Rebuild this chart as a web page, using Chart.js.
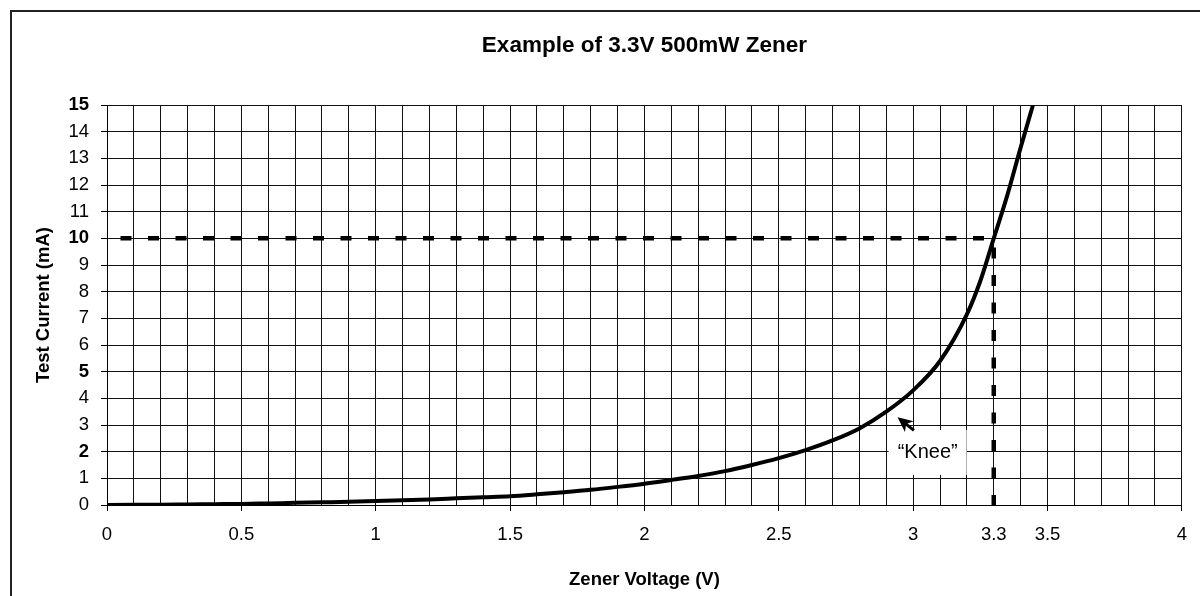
<!DOCTYPE html>
<html>
<head>
<meta charset="utf-8">
<title>Example of 3.3V 500mW Zener</title>
<script src="https://cdn.jsdelivr.net/npm/chart.js@4.4.1/dist/chart.umd.min.js"></script>
<style>
  body { margin: 0; background: #fff; }
  canvas { display: block; }
</style>
</head>
<body>
<canvas id="zenerChart" width="1200" height="596"></canvas>
<script>
// Zener I-V curve
const voltage = [0, 0.1, 0.2, 0.3, 0.4, 0.5, 0.6, 0.7, 0.8, 0.9, 1.0, 1.1, 1.2, 1.3, 1.4, 1.5, 1.6, 1.7,
                 1.8, 1.9, 2.0, 2.1, 2.2, 2.3, 2.4, 2.5, 2.6, 2.7, 2.8, 2.9, 3.0, 3.1, 3.2, 3.25, 3.3, 3.35, 3.4, 3.446];
const current = [0, 0.005, 0.01, 0.02, 0.03, 0.04, 0.06, 0.08, 0.10, 0.12, 0.15, 0.18, 0.21, 0.25, 0.29, 0.33, 0.40, 0.48,
                 0.57, 0.68, 0.80, 0.94, 1.09, 1.27, 1.50, 1.76, 2.06, 2.42, 2.87, 3.50, 4.30, 5.40, 7.15, 8.4, 10.0, 11.6, 13.4, 15];

// test point (3.3 V at 10 mA) marked with dashed lines
const testPoint = { v: 3.3, i: 10 };

// axis setup
const xLabelled = [0, 0.5, 1, 1.5, 2, 2.5, 3, 3.3, 3.5, 4];
const xMajor = [0, 0.5, 1, 1.5, 2, 2.5, 3, 3.5, 4];
const yBold = [2, 5, 10, 15];

// "Knee" callout: text spot and arrow (tail -> tip), in data units
const kneeText = { v: 3.054, i: 1.99, label: '\u201cKnee\u201d' };
const kneeArrow = { fromV: 3.003, fromI: 2.8, toV: 2.942, toI: 3.29 };

const FONT = "Arial, 'Liberation Sans', sans-serif";

function near(list, value) {
    return list.some(function(x) { return Math.abs(x - value) < 1e-6; });
}

const curvePoints = voltage.map(function(v, k) { return { x: v, y: current[k] }; });

const decorPlugin = {
    id: 'decor',
    beforeDraw: function(chart) {
        const ctx = chart.ctx;
        ctx.save();
        ctx.fillStyle = '#fff';
        ctx.fillRect(0, 0, chart.width, chart.height);
        ctx.restore();
    },
    afterDatasetsDraw: function(chart) {
        const ctx = chart.ctx;
        const xs = chart.scales.x;
        const ys = chart.scales.y;

        // knee label on a white box
        const tx = xs.getPixelForValue(kneeText.v);
        const ty = ys.getPixelForValue(kneeText.i);
        ctx.save();
        ctx.font = '20px ' + FONT;
        const w = ctx.measureText(kneeText.label).width;
        ctx.fillStyle = '#fff';
        ctx.fillRect(tx - w / 2 - 9, ty - 22, w + 18, 45);
        ctx.fillStyle = '#000';
        ctx.textAlign = 'center';
        ctx.textBaseline = 'middle';
        ctx.fillText(kneeText.label, tx, ty + 1);

        // arrow
        const ax = xs.getPixelForValue(kneeArrow.fromV);
        const ay = ys.getPixelForValue(kneeArrow.fromI);
        const bx = xs.getPixelForValue(kneeArrow.toV);
        const by = ys.getPixelForValue(kneeArrow.toI);
        const len = Math.hypot(bx - ax, by - ay);
        const dx = (bx - ax) / len, dy = (by - ay) / len;
        const px = -dy, py = dx;
        ctx.strokeStyle = '#000';
        ctx.lineWidth = 3;
        ctx.beginPath();
        ctx.moveTo(ax, ay);
        ctx.lineTo(bx - dx * 9, by - dy * 9);
        ctx.stroke();
        ctx.beginPath();
        ctx.moveTo(bx, by);
        ctx.lineTo(bx - dx * 15 + px * 7, by - dy * 15 + py * 7);
        ctx.lineTo(bx - dx * 11, by - dy * 11);
        ctx.lineTo(bx - dx * 15 - px * 7, by - dy * 15 - py * 7);
        ctx.closePath();
        ctx.fill();
        ctx.restore();
    },
    afterDraw: function(chart) {
        const ctx = chart.ctx;
        const area = chart.chartArea;
        const midX = (area.left + area.right) / 2;
        const midY = (area.top + area.bottom) / 2;
        ctx.save();
        // outer frame (only top/left are inside the picture)
        ctx.strokeStyle = '#222';
        ctx.lineWidth = 2;
        ctx.strokeRect(11, 11, chart.width + 50, chart.height + 50);

        ctx.fillStyle = '#000';
        ctx.textAlign = 'center';
        ctx.textBaseline = 'middle';
        ctx.font = 'bold 22.5px ' + FONT;
        ctx.fillText('Example of 3.3V 500mW Zener', midX, 46);

        ctx.font = 'bold 18.5px ' + FONT;
        ctx.fillText('Zener Voltage (V)', midX, 580);

        ctx.translate(44, midY);
        ctx.rotate(-Math.PI / 2);
        ctx.fillText('Test Current (mA)', 0, 0);
        ctx.restore();
    }
};

new Chart(document.getElementById('zenerChart'), {
    type: 'line',
    data: {
        datasets: [
            {
                label: 'Zener curve',
                data: curvePoints,
                borderColor: '#000',
                borderWidth: 4,
                pointRadius: 0,
                cubicInterpolationMode: 'monotone',
                fill: false
            },
            {
                label: 'Test current',
                data: [{ x: 0, y: testPoint.i }, { x: testPoint.v, y: testPoint.i }],
                borderColor: '#000',
                borderWidth: 4.5,
                borderDash: [11, 16.5],
                borderDashOffset: 14,
                pointRadius: 0,
                borderCapStyle: 'butt'
            },
            {
                label: 'Test voltage',
                data: [{ x: testPoint.v, y: 0 }, { x: testPoint.v, y: testPoint.i }],
                borderColor: '#000',
                borderWidth: 4.5,
                borderDash: [11, 16.5],
                borderDashOffset: 1,
                pointRadius: 0,
                borderCapStyle: 'butt'
            }
        ]
    },
    options: {
        responsive: false,
        animation: false,
        events: [],
        layout: { padding: { top: 105, right: 17, left: 0, bottom: 0 } },
        plugins: {
            legend: { display: false },
            title: { display: false },
            tooltip: { enabled: false }
        },
        scales: {
            x: {
                type: 'linear',
                min: 0,
                max: 4,
                afterFit: function(scale) { scale.height = 91; },
                afterBuildTicks: function(scale) {
                    const list = [];
                    for (let k = 0; k <= 40; k++) list.push({ value: k / 10 });
                    scale.ticks = list;
                },
                border: { color: '#000', width: 1 },
                grid: {
                    color: '#111',
                    lineWidth: 1,
                    tickLength: 6,
                    tickColor: function(c) {
                        return c.tick && near(xMajor, c.tick.value) ? '#000' : 'rgba(0,0,0,0)';
                    }
                },
                ticks: {
                    autoSkip: false,
                    maxRotation: 0,
                    padding: 13,
                    color: '#000',
                    font: { family: FONT, size: 18.5 },
                    callback: function(value) {
                        return near(xLabelled, value) ? String(Math.round(value * 10) / 10) : '';
                    }
                }
            },
            y: {
                min: 0,
                max: 15,
                afterFit: function(scale) { scale.width = 107; },
                border: { color: '#000', width: 1 },
                grid: { color: '#111', lineWidth: 1, tickLength: 6, tickColor: '#000' },
                ticks: {
                    stepSize: 1,
                    padding: 12,
                    color: '#000',
                    font: function(c) {
                        const bold = c.tick && near(yBold, c.tick.value);
                        return { family: FONT, size: 18.5, weight: bold ? 'bold' : 'normal' };
                    }
                }
            }
        }
    },
    plugins: [decorPlugin]
});
</script>
</body>
</html>
